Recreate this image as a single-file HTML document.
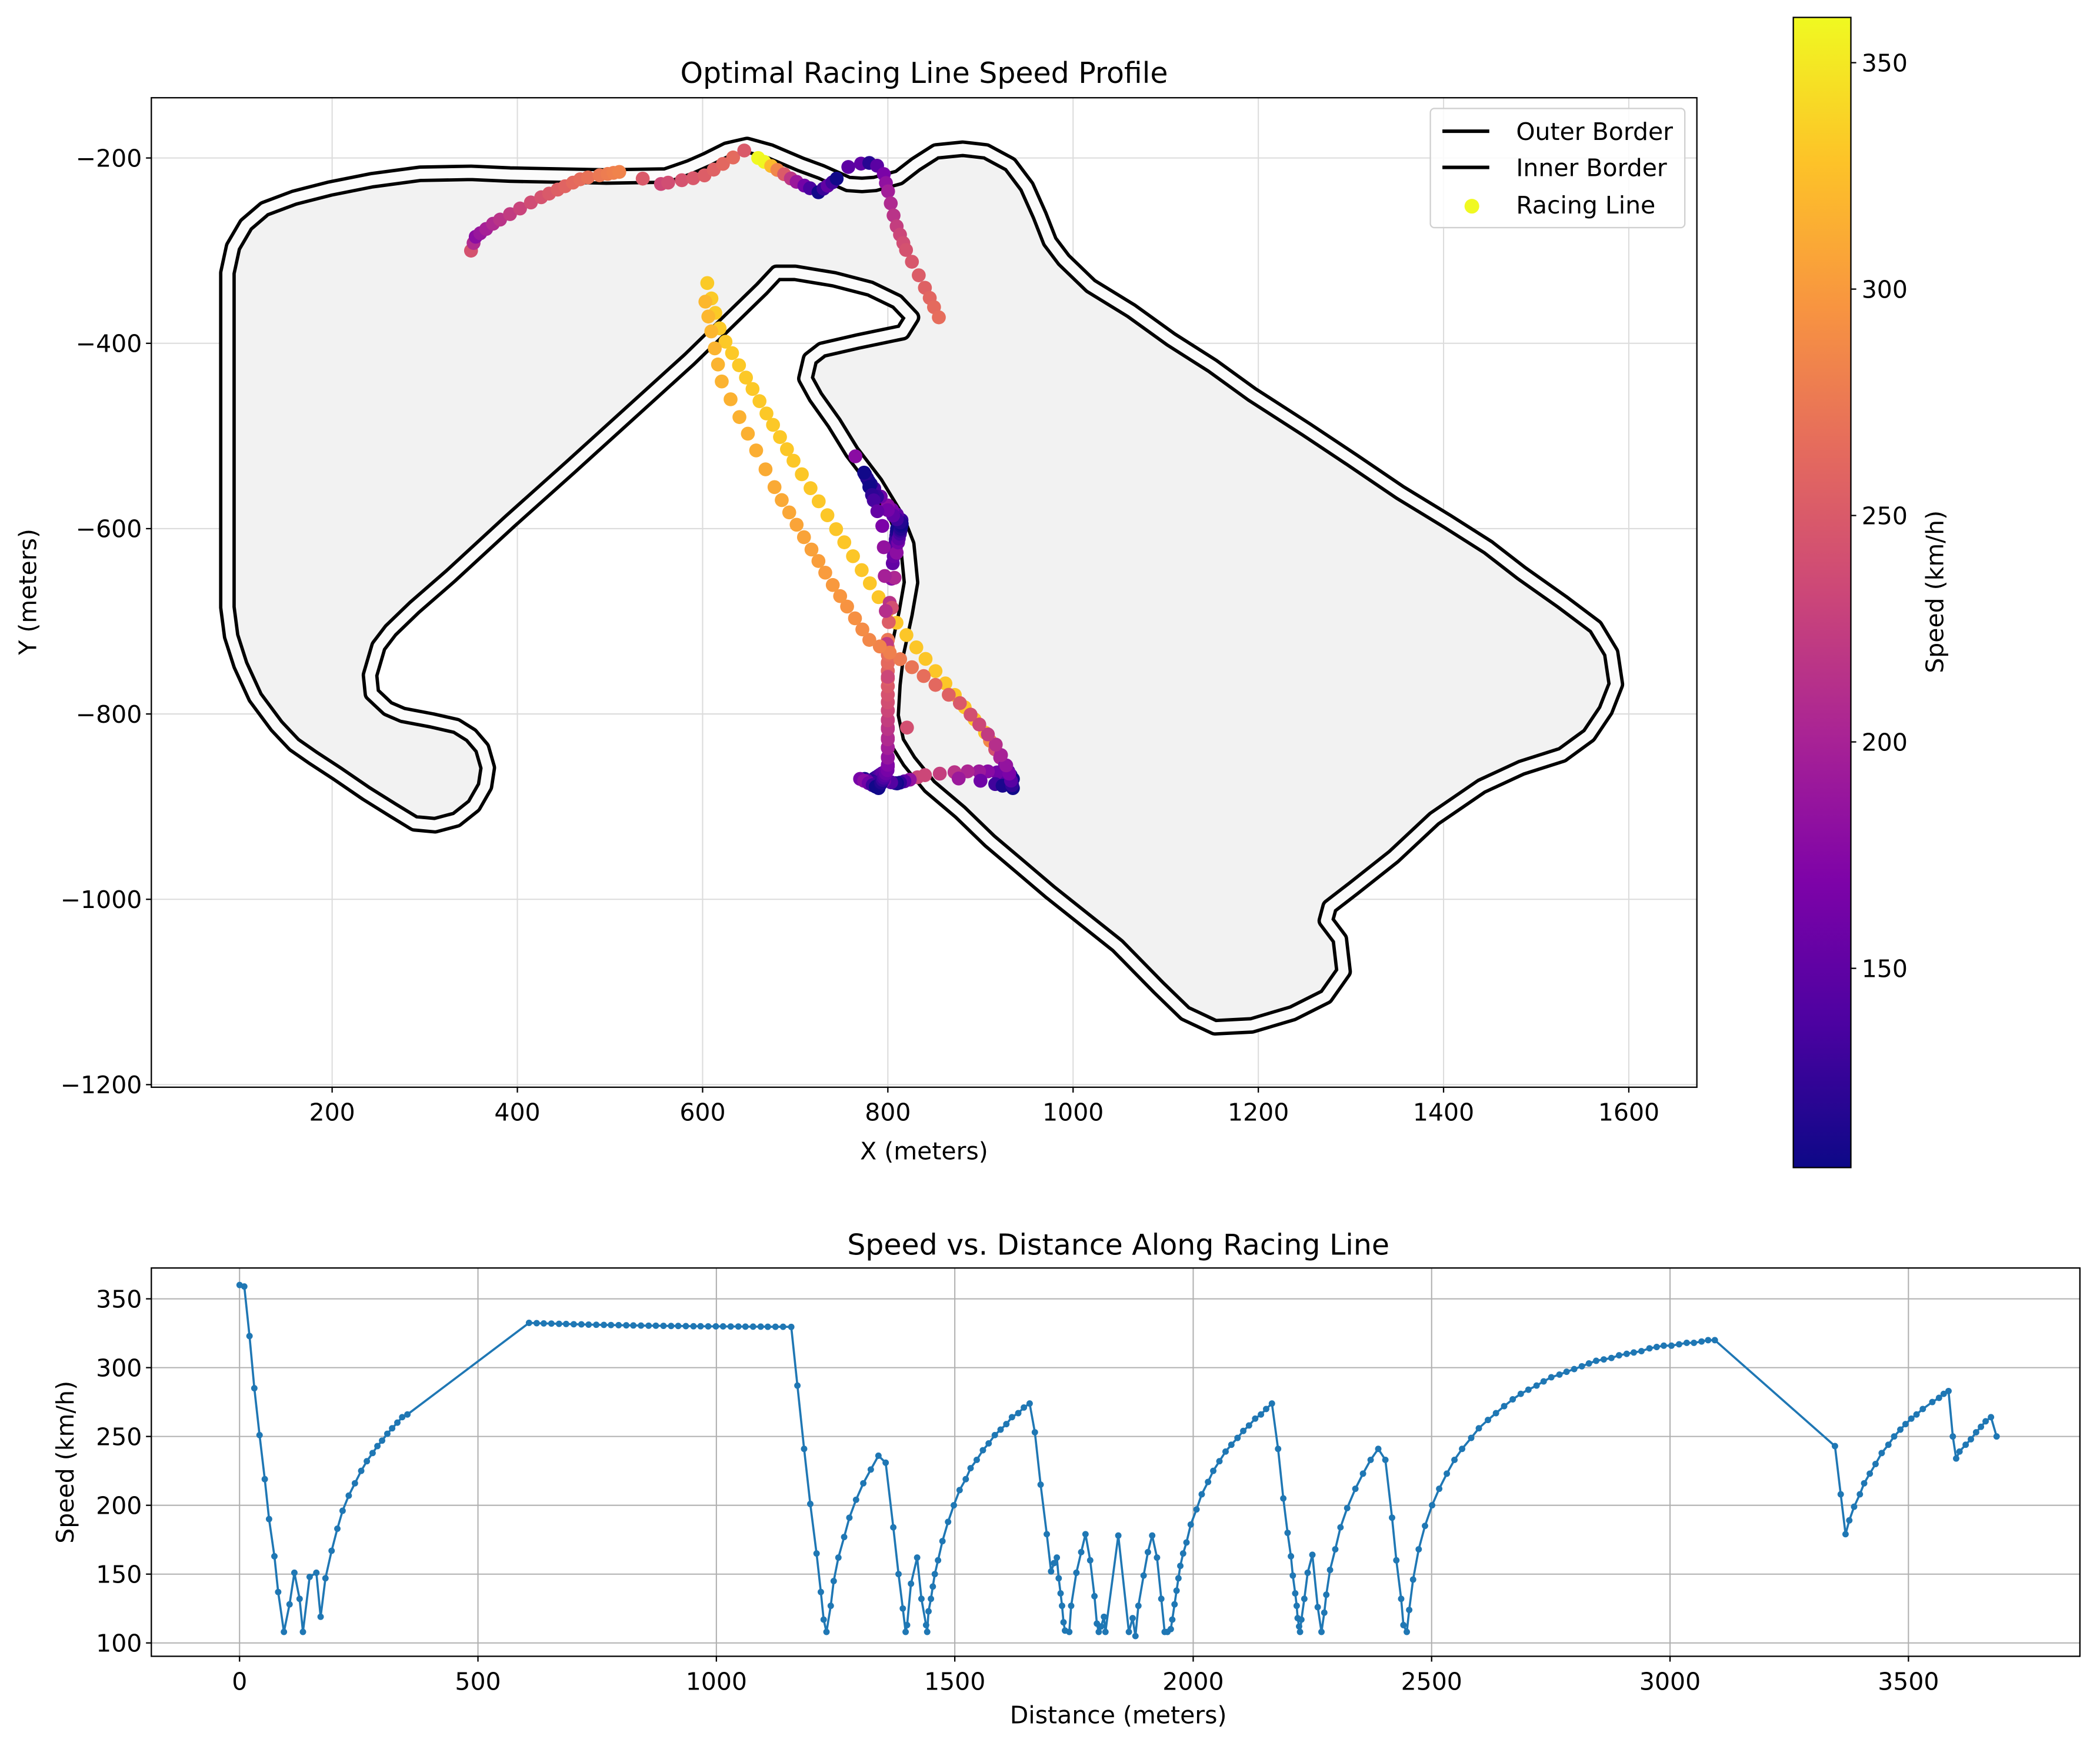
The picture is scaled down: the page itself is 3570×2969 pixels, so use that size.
<!DOCTYPE html>
<html><head><meta charset="utf-8"><style>
html,body{margin:0;padding:0;background:#fff;}
svg{display:block;font-family:"DejaVu Sans","Liberation Sans",sans-serif;}
</style></head><body>
<svg id="fig" width="3570" height="2969" viewBox="0 0 1568 1304" preserveAspectRatio="none" xmlns="http://www.w3.org/2000/svg">
<defs>
<linearGradient id="plasma" x1="0" y1="1" x2="0" y2="0">
<stop offset="0" stop-color="#0d0887"/><stop offset="0.125" stop-color="#4c02a1"/><stop offset="0.25" stop-color="#7e03a8"/><stop offset="0.375" stop-color="#a92395"/><stop offset="0.5" stop-color="#cc4778"/><stop offset="0.625" stop-color="#e56b5d"/><stop offset="0.75" stop-color="#f89540"/><stop offset="0.875" stop-color="#fdc328"/><stop offset="1" stop-color="#f0f921"/>
</linearGradient>
<clipPath id="clipTop"><rect x="113" y="73" width="1154" height="739"/></clipPath>
<clipPath id="clipBot"><rect x="113" y="947" width="1440" height="290"/></clipPath>
</defs>
<g id="topChart"></g>
<g id="cbar"></g>
<g id="bot"></g>
</svg>
<script>
// ---- speed profile data ----
const distances = [0,10,21,31,42,53,62,73,81,93,105,115,126,133,147,161,170,180,193,205,216,229,242,255,267,279,289,299,310,320,331,341,352,
607,623,638,654,670,685,701,717,732,748,764,779,795,811,826,842,858,873,889,905,920,936,952,967,983,999,1014,1030,1046,1061,1077,1093,1108,1124,1140,1157,
1170,1184,1197,1210,1219,1225,1231,1240,1246,1256,1268,1279,1293,1308,1324,1340,1355,1371,1382,1391,1397,1400,1408,1421,1430,1440,1442,1445,1450,1454,1458,1465,1474,1486,1498,1510,1523,1533,1546,1559,1571,1584,1596,1608,1620,1633,1645,1657,1668,1680,1693,1702,1708,1714,1718,1722,1725,1728,1731,1740,1744,1755,1765,1774,1784,1793,1798,1802,1807,1813,1816,1843,1865,1873,1879,1885,1896,1905,1914,1924,1933,1940,1946,1953,1956,1961,1965,1969,1973,1979,1986,1995,2007,2018,2031,2042,2055,2068,2080,2093,2105,2117,2130,2142,2153,2165,2178,2189,2198,2205,2209,2214,2217,2219,2222,2224,2227,2233,2240,2250,2261,2269,2275,2279,2287,2298,2309,2323,2340,2356,2372,2388,2403,2417,2426,2436,2441,2448,2453,2461,2473,2486,2501,2516,2532,2548,2564,2583,2599,2618,2635,2652,2670,2687,2703,2720,2735,2751,2768,2783,2799,2815,2830,2845,2861,2877,2893,2909,2924,2940,2957,2972,2987,3003,3019,3035,3050,3066,3080,3094,
3346,3358,3368,3376,3386,3398,3407,3419,3431,3444,3458,3470,3483,3494,3506,3517,3530,3550,3564,3574,3584,3593,3600,3607,3620,3631,3642,3652,3662,3673,3685];
const speeds = [360,359,323,285,251,219,190,163,137,108,128,151,132,108,148,151,119,147,167,183,196,207,216,225,232,238,243,247,252,256,260,264,266,
332.5,332.3,332.1,332,331.8,331.7,331.5,331.4,331.3,331.2,331.1,331,330.9,330.8,330.7,330.6,330.5,330.5,330.4,330.3,330.3,330.2,330.1,330.1,330,330,330,329.9,329.9,329.8,329.8,329.8,329.7,329.7,329.7,329.6,
287,241,201,165,137,117,108,127,145,162,177,191,204,216,226,236,231,184,150,125,108,113,143,162,132,113,108,123,132,141,150,160,174,188,200,211,219,227,233,240,245,251,255,259,264,267,271,274,253,215,179,152,158,162,147,136,127,115,109,108,127,151,166,179,160,134,114,108,112,119,108,178,108,118,105,127,149,166,178,162,132,108,108,110,117,128,138,147,156,165,173,186,197,208,217,225,232,239,244,249,254,258,263,266,270,274,241,205,180,163,149,136,127,118,112,108,117,132,151,164,126,108,122,135,153,168,184,198,212,223,233,241,233,191,160,132,113,108,124,146,168,185,200,212,223,233,241,249,256,262,267,272,277,281,284,287,290,293,295,297,299,301,303,305,306,307,309,310,311,312,314,315,316,316,317,318,318,319,320,320,
243,208,179,189,199,208,216,223,230,238,244,250,255,259,263,266,270,275,278,281,283,250,234,239,244,248,253,257,261,264,250];
const xTicksBot = [0,500,1000,1500,2000,2500,3000,3500];
const yTicksBot = [100,150,200,250,300,350];
// ---- track map data (meters) ----
const trackX = [350,295,243,198,159,127,107,93,87,87,91,101,117,140,159,179,205,237,266,289,311,334,353,365,368,362,350,334,308,276,260,243,241,250,263,289,328,392,457,522,586,625,664,680,700,742,781,810,826,816,768,729,716,711,722,742,761,787,810,821,825,819,810,806,804,810,823,845,878,910,942,975,1048,1092,1121,1153,1193,1237,1273,1292,1288,1273,1277,1303,1346,1390,1441,1484,1528,1557,1575,1586,1581,1564,1528,1484,1448,1404,1353,1303,1252,1193,1150,1106,1063,1019,990,975,964,950,932,906,881,852,830,812,786,772,757,728,706,673,648,626,604,586,560,496,392];
const trackY = [-216,-217,-224,-233,-243,-255,-272,-296,-324,-685,-716,-747,-782,-813,-833,-847,-864,-886,-904,-918,-920,-914,-899,-878,-858,-837,-823,-813,-807,-801,-794,-778,-758,-727,-710,-685,-651,-592,-534,-475,-417,-379,-341,-324,-324,-331,-341,-355,-372,-388,-398,-407,-417,-438,-458,-486,-517,-551,-589,-617,-658,-692,-734,-768,-802,-830,-851,-878,-906,-937,-964,-992,-1050,-1095,-1123,-1138,-1136,-1123,-1105,-1078,-1043,-1023,-1008,-988,-954,-913,-878,-858,-844,-823,-796,-768,-734,-706,-679,-648,-620,-592,-561,-527,-493,-455,-424,-396,-365,-338,-310,-290,-262,-231,-207,-193,-190,-193,-207,-221,-228,-229,-228,-215,-207,-193,-186,-191,-202,-210,-219,-220,-218];
// racing line path waypoints (distance along line, x, y)
const lineWpD = [0,60,93,130,150,175,190,215,250,290,320,352, 607,660,830,1000,1157,1231,1260,1300,1340,1397,1440,1470,1540,1657,1680,1700,1731,1745,1774,1800,1843, 1865,1880,1905,1946,1980,2050,2165,2180,2200,2224,2250,2269,2300,2372,2403,2426,2448,2480,2520,2580,2660,2720,2800,2920,3020,3094, 3346,3368,3400,3450,3520,3584,3600,3640,3685];
const lineWpX = [660,700,725,742,760,785,795,800,808,820,840,855, 605,620,700,800,905,935,915,880,840,810,785,800,800,800,802,805,810,815,800,780,765, 775,790,770,790,800,800,800,805,810,815,800,780,795,800,840,900,935,930,915,880,820,780,740,680,620,603, 350,355,375,420,470,510,555,600,645];
const lineWpY = [-200,-225,-237,-225,-207,-205,-215,-235,-270,-300,-340,-372, -335,-390,-530,-690,-820,-870,-862,-862,-866,-875,-870,-860,-800,-720,-680,-640,-600,-590,-575,-550,-522, -870,-875,-870,-880,-860,-800,-720,-680,-620,-595,-580,-555,-600,-760,-866,-872,-880,-860,-830,-790,-745,-720,-660,-560,-440,-355, -300,-285,-270,-245,-222,-215,-228,-220,-192];
const xTicksTop = [200,400,600,800,1000,1200,1400,1600];
const yTicksTop = [-200,-400,-600,-800,-1000,-1200];
const cbTicks = [150,200,250,300,350];

const NS = "http://www.w3.org/2000/svg";
function mk(tag, attrs, parent, text){
  const e = document.createElementNS(NS, tag);
  for (const k in attrs) e.setAttribute(k, attrs[k]);
  if (text !== undefined) e.textContent = text;
  parent.appendChild(e);
  return e;
}
const TX = v => 113 + (v - 4.8) / (1673.5 - 4.8) * 1154;
const TY = v => 73 + (-135 - v) / (-135 + 1202.8) * 739;
const BX = v => 113 + (v + 185) / (3859.6 + 185) * 1440;
const BY = v => 947 + (372.4 - v) / (372.4 - 90.3) * 290;
const SMIN = 106, SMAX = 360;
const CB_T = 13, CB_B = 872;
const CBY = v => CB_B - (v - SMIN) / (SMAX - SMIN) * (CB_B - CB_T);
const stops = [[13,8,135],[76,2,161],[126,3,168],[169,35,149],[204,71,120],[229,107,93],[248,149,64],[253,195,40],[240,249,33]];
function plasma(s){
  let t = Math.max(0, Math.min(1, (s - SMIN) / (SMAX - SMIN))) * 8;
  const i = Math.min(7, Math.floor(t)); const f = t - i;
  const a = stops[i], b = stops[i+1];
  return `rgb(${Math.round(a[0]+(b[0]-a[0])*f)},${Math.round(a[1]+(b[1]-a[1])*f)},${Math.round(a[2]+(b[2]-a[2])*f)})`;
}
const FS = 18, TFS = 21.5;
const txt = {fill:"#000", "font-size":String(FS)};

// ===== TOP CHART =====
const topG = document.getElementById('topChart');
xTicksTop.forEach(v => {
  const l = mk('line', {x1:TX(v), x2:TX(v), y1:73, y2:812, stroke:"#dcdcdc", "stroke-width":0.9}, topG);
  
  
});
yTicksTop.forEach(v => {
  const l = mk('line', {x1:113, x2:1267, y1:TY(v), y2:TY(v), stroke:"#dcdcdc", "stroke-width":0.9}, topG);
  
  
});
let d = trackX.map((x,i) => (i ? 'L' : 'M') + TX(x).toFixed(1) + ' ' + TY(trackY[i]).toFixed(1)).join(' ') + ' Z';
const tg = mk('g', {"clip-path":"url(#clipTop)"}, topG);
const tfill = mk('path', {d, fill:"#f2f2f2", stroke:"#000", "stroke-width":12.5, "stroke-linejoin":"round"}, tg);


const tin = mk('path', {d, fill:"none", stroke:"#fbfbfb", "stroke-width":7.5, "stroke-linejoin":"round"}, tg);


function posAt(dd){
  for (let i = 0; i < lineWpD.length - 1; i++){
    if (dd >= lineWpD[i] && dd <= lineWpD[i+1]){
      const f = (dd - lineWpD[i]) / (lineWpD[i+1] - lineWpD[i] || 1);
      return [lineWpX[i] + (lineWpX[i+1]-lineWpX[i])*f, lineWpY[i] + (lineWpY[i+1]-lineWpY[i])*f];
    }
  }
  return [lineWpX[lineWpX.length-1], lineWpY[lineWpY.length-1]];
}
const rg = mk('g', {}, tg);


distances.forEach((dd, i) => {
  const p = posAt(dd);
  const c = mk('circle', {cx:TX(p[0]).toFixed(1), cy:TY(p[1]).toFixed(1), r:5.2, fill:plasma(speeds[i])}, rg);
  
  
});
const fr = mk('rect', {x:113, y:73, width:1154, height:739, fill:"none", stroke:"#000", "stroke-width":1}, topG);


xTicksTop.forEach(v => {
  mk('line', {x1:TX(v), x2:TX(v), y1:812, y2:816, stroke:"#000", "stroke-width":1}, topG);
  const tt = mk('text', Object.assign({x:TX(v), y:837, "text-anchor":"middle"}, txt), topG, String(v));
  
  
});
yTicksTop.forEach(v => {
  mk('line', {x1:109, x2:113, y1:TY(v), y2:TY(v), stroke:"#000", "stroke-width":1}, topG);
  const tt = mk('text', Object.assign({x:106, y:TY(v)+6.5, "text-anchor":"end"}, txt), topG, String(v).replace('-', '\u2212'));
  
  
});
let tx;
tx = mk('text', {x:690, y:62, "text-anchor":"middle", "font-size":String(TFS)}, topG, "Optimal Racing Line Speed Profile");
 
tx = mk('text', Object.assign({x:690, y:866, "text-anchor":"middle"}, txt), topG, "X (meters)");
 
tx = mk('text', Object.assign({x:0, y:0, "text-anchor":"middle", transform:"translate(27,442) rotate(-90)"}, txt), topG, "Y (meters)");
 
const lg = mk('g', {}, topG);


mk('rect', {x:1068, y:81, width:190, height:89, rx:3, fill:"#fff", "fill-opacity":0.85, stroke:"#d0d0d0", "stroke-width":1}, lg);
const le1 = mk('g', {}, lg);  
mk('line', {x1:1077, x2:1112, y1:98, y2:98, stroke:"#000", "stroke-width":2.6}, le1);
mk('text', Object.assign({x:1132, y:104.5}, txt), le1, "Outer Border");
const le2 = mk('g', {}, lg);  
mk('line', {x1:1077, x2:1112, y1:125, y2:125, stroke:"#000", "stroke-width":2.6}, le2);
mk('text', Object.assign({x:1132, y:131.5}, txt), le2, "Inner Border");
const le3 = mk('g', {}, lg);  
mk('circle', {cx:1099, cy:154, r:5.5, fill:"#f0f921"}, le3);
mk('text', Object.assign({x:1132, y:159.5}, txt), le3, "Racing Line");

// ===== COLORBAR =====
const cb = document.getElementById('cbar');
const cbr = mk('rect', {x:1339, y:CB_T, width:43, height:CB_B-CB_T, fill:"url(#plasma)", stroke:"#000", "stroke-width":1}, cb);


cbTicks.forEach(v => {
  mk('line', {x1:1382, x2:1386, y1:CBY(v), y2:CBY(v), stroke:"#000", "stroke-width":1}, cb);
  const tt = mk('text', Object.assign({x:1390, y:CBY(v)+6.5}, txt), cb, String(v));
  
  
});
tx = mk('text', Object.assign({x:0, y:0, "text-anchor":"middle", transform:"translate(1451,442) rotate(-90)"}, txt), cb, "Speed (km/h)");
 

// ===== BOTTOM CHART =====
const bot = document.getElementById('bot');
xTicksBot.forEach(v => {
  const l = mk('line', {x1:BX(v), x2:BX(v), y1:947, y2:1237, stroke:"#b0b0b0", "stroke-width":0.9}, bot);
  
  
});
yTicksBot.forEach(v => {
  const l = mk('line', {x1:113, x2:1553, y1:BY(v), y2:BY(v), stroke:"#b0b0b0", "stroke-width":0.9}, bot);
  
  
});
const bg = mk('g', {"clip-path":"url(#clipBot)"}, bot);
const pl = mk('polyline', {points: distances.map((x,i) => BX(x).toFixed(1)+','+BY(speeds[i]).toFixed(1)).join(' '), fill:"none", stroke:"#1f77b4", "stroke-width":1.6, "stroke-linejoin":"round"}, bg);


distances.forEach((x, i) => {
  const c = mk('circle', {cx:BX(x).toFixed(1), cy:BY(speeds[i]).toFixed(1), r:2.4, fill:"#1f77b4"}, bg);
  
  
});
const fr2 = mk('rect', {x:113, y:947, width:1440, height:290, fill:"none", stroke:"#000", "stroke-width":1}, bot);


xTicksBot.forEach(v => {
  mk('line', {x1:BX(v), x2:BX(v), y1:1237, y2:1241, stroke:"#000", "stroke-width":1}, bot);
  const tt = mk('text', Object.assign({x:BX(v), y:1262, "text-anchor":"middle"}, txt), bot, String(v));
  
  
});
yTicksBot.forEach(v => {
  mk('line', {x1:109, x2:113, y1:BY(v), y2:BY(v), stroke:"#000", "stroke-width":1}, bot);
  const tt = mk('text', Object.assign({x:106, y:BY(v)+6.5, "text-anchor":"end"}, txt), bot, String(v));
  
  
});
tx = mk('text', {x:835, y:937, "text-anchor":"middle", "font-size":String(TFS)}, bot, "Speed vs. Distance Along Racing Line");
 
tx = mk('text', Object.assign({x:835, y:1287, "text-anchor":"middle"}, txt), bot, "Distance (meters)");
 
tx = mk('text', Object.assign({x:0, y:0, "text-anchor":"middle", transform:"translate(55,1092) rotate(-90)"}, txt), bot, "Speed (km/h)");
 
</script>
</body></html>
